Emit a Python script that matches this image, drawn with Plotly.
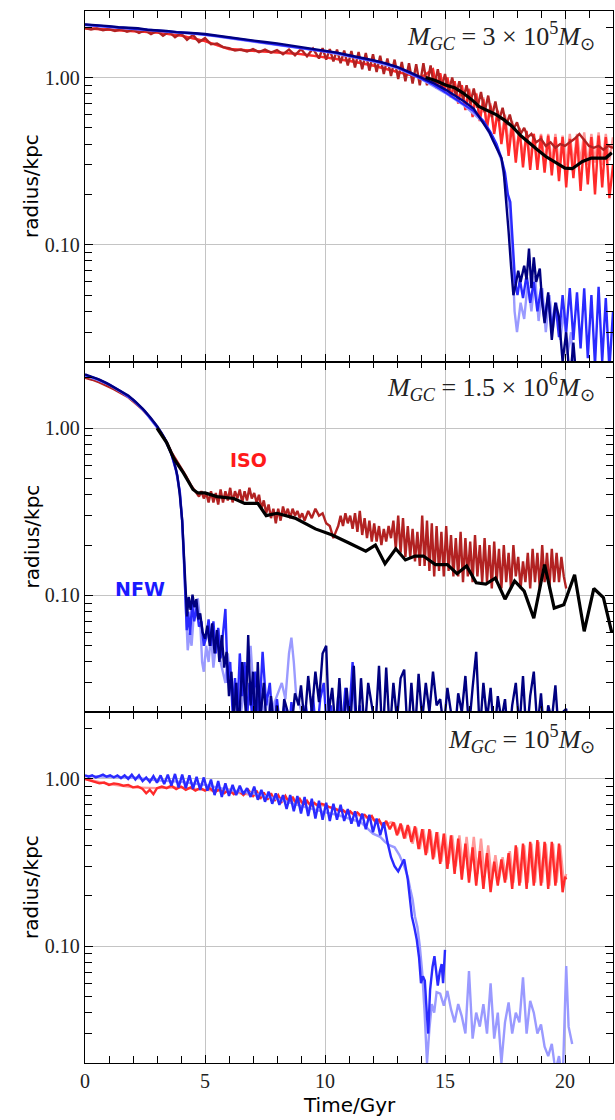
import plotly.graph_objects as go
from plotly.subplots import make_subplots

# ---------------- data (time in Gyr, radius in kpc) ----------------
# Panel 1: M_GC = 3e5
p1_iso_light = [(0,1.97),(1,1.93),(2,1.90),(3,1.86),(4,1.78),(5,1.65),(6,1.48),(7,1.45),(8,1.42),(9,1.38),(10,1.32),(11,1.26),(12,1.18),(13,1.08),(14,1.0),
    (14.5,1.10),(14.65,0.88),(14.8,1.05),(14.95,0.83),(15.1,1.0),(15.25,0.77),(15.4,0.95),(15.55,0.72),(15.7,0.90),(15.85,0.66),(16.0,0.86),(16.15,0.60),(16.3,0.81),(16.45,0.56),(16.6,0.76),(16.75,0.52),(16.9,0.70),(17.05,0.48),(17.2,0.64),(17.35,0.44),(17.5,0.60),(17.65,0.40),(17.8,0.55),(17.95,0.37),
    (18.1,0.47),(18.25,0.34),(18.4,0.46),(18.55,0.33),(18.7,0.46),(18.85,0.32),(19.0,0.46),(19.15,0.31),(19.3,0.46),(19.45,0.31),(19.6,0.46),(19.75,0.30),(19.9,0.45),(20.05,0.30),(20.2,0.46),(20.35,0.30),(20.5,0.46),(20.65,0.31),(20.8,0.47),(20.95,0.30),(21.1,0.46),(21.25,0.31),(21.4,0.47),(21.55,0.30),(21.7,0.46),(21.85,0.32),(22.0,0.44)]
p1_iso_red = [(0,1.97),(1,1.93),(2,1.90),(3,1.86),(4,1.78),(5,1.65),(6,1.48),(7,1.45),(8,1.42),(9,1.38),(10,1.32),(11,1.26),(12,1.18),(13,1.08),(14,1.0),
    (14.5,1.12),(14.65,0.86),(14.8,1.06),(14.95,0.82),(15.1,1.0),(15.25,0.76),(15.4,0.95),(15.55,0.70),(15.7,0.90),(15.85,0.64),(16.0,0.85),(16.15,0.58),(16.3,0.80),(16.45,0.55),(16.6,0.74),(16.75,0.50),(16.9,0.68),(17.05,0.46),(17.2,0.63),(17.35,0.40),(17.5,0.57),(17.65,0.34),(17.8,0.53),(17.95,0.31),
    (18.1,0.50),(18.25,0.29),(18.4,0.48),(18.55,0.28),(18.7,0.46),(18.85,0.28),(19.0,0.45),(19.15,0.27),(19.3,0.45),(19.45,0.26),(19.6,0.44),(19.75,0.24),(19.9,0.44),(20.05,0.22),(20.2,0.43),(20.35,0.25),(20.5,0.44),(20.65,0.21),(20.8,0.43),(20.95,0.23),(21.1,0.44),(21.25,0.20),(21.4,0.45),(21.55,0.22),(21.7,0.44),(21.85,0.19),(22.0,0.30)]
p1_iso_dark = [(0,1.98),(0.25,1.94),(0.5,1.97),(0.75,1.92),(1.0,1.95),(1.25,1.90),(1.5,1.94),(1.75,1.88),(2.0,1.93),(2.25,1.85),(2.5,1.92),(2.75,1.82),(3.0,1.90),(3.25,1.78),(3.5,1.88),(3.75,1.74),(4.0,1.84),(4.25,1.68),(4.5,1.80),(4.75,1.63),(5.0,1.72),(5.25,1.58),(5.5,1.60),(5.75,1.52),(6.0,1.50),(6.25,1.45),(6.5,1.47),(6.75,1.43),(7.0,1.48),(7.25,1.42),(7.5,1.47),(7.75,1.41),(8.0,1.46),(8.25,1.38),(8.5,1.47),(8.75,1.36),(9.0,1.48),(9.25,1.34),(9.5,1.49),(9.75,1.30),
    (9.9,1.50),(10.05,1.28),(10.2,1.48),(10.35,1.25),(10.5,1.47),(10.65,1.22),(10.8,1.45),(10.95,1.18),(11.1,1.44),(11.25,1.15),(11.4,1.42),(11.55,1.12),(11.7,1.40),(11.85,1.10),(12.0,1.38),(12.15,1.08),(12.3,1.35),(12.45,1.05),(12.6,1.30),(12.75,1.02),(12.9,1.28),(13.05,0.98),(13.2,1.24),(13.35,0.95),(13.5,1.22),(13.65,0.92),(13.8,1.20),(13.95,0.90),(14.1,1.22),(14.25,0.90),(14.4,1.18),(14.55,0.88),(14.7,1.12),(14.85,0.86),(15.0,1.05),(15.15,0.82),(15.3,1.0),(15.45,0.78),(15.6,0.95),(15.75,0.74),(15.9,0.90),(16.05,0.70),(16.2,0.86),(16.35,0.66),(16.5,0.82),(16.65,0.62),(16.8,0.78),(16.95,0.58),(17.1,0.72),(17.25,0.55),(17.4,0.66),(17.55,0.52),(17.7,0.60),(17.85,0.49),(18.0,0.54),(18.15,0.46),(18.3,0.50),(18.45,0.44),(18.6,0.46),(18.8,0.41),(19.0,0.43),(19.2,0.39),(19.4,0.41),(19.6,0.38),(19.8,0.40),(20.0,0.39),(20.2,0.41),(20.4,0.43),(20.6,0.46),(20.8,0.42),(21.0,0.39),(21.2,0.38),(21.4,0.39),(21.6,0.37),(21.8,0.39),(22.0,0.38)]
p1_nfw_light = [(0,2.06),(1,2.01),(2,1.95),(3,1.90),(4,1.85),(5,1.80),(6,1.72),(7,1.65),(8,1.58),(9,1.50),(10,1.43),(11,1.34),(12,1.25),(13,1.14),(14,0.98),(15,0.81),(15.8,0.68),(16.6,0.54),(17.1,0.40),(17.35,0.32),(17.55,0.21),(17.7,0.16),(17.8,0.09),(17.9,0.04),(18.0,0.03),
    (18.15,0.045),(18.3,0.036),(18.45,0.06),(18.6,0.04),(18.75,0.065),(18.9,0.035),(19.05,0.055),(19.2,0.03),(19.35,0.05),(19.5,0.032),(19.65,0.045),(19.8,0.027),(19.95,0.04),(20.1,0.022),(20.25,0.03),(20.4,0.015)]
p1_nfw_blue = [(0,2.07),(0.5,2.04),(1,2.02),(1.5,1.99),(2,1.96),(2.5,1.93),(3,1.91),(3.5,1.88),(4,1.86),(4.5,1.84),(5,1.81),(5.5,1.77),(6,1.73),(6.5,1.69),(7,1.66),(7.5,1.62),(8,1.59),(8.5,1.55),(9,1.51),(9.5,1.47),(10,1.44),(10.5,1.40),(11,1.35),(11.5,1.31),(12,1.26),(12.5,1.21),(13,1.15),(13.5,1.07),(14,0.99),(14.5,0.91),(15,0.82),(15.4,0.75),(15.8,0.69),(16.2,0.63),(16.6,0.55),(16.9,0.47),(17.15,0.40),(17.35,0.33),(17.5,0.27),(17.62,0.20),(17.72,0.18),(17.82,0.11),(17.92,0.06),(18.02,0.05),
    (18.12,0.062),(18.25,0.048),(18.4,0.066),(18.55,0.045),(18.7,0.06),(18.85,0.04),(19.0,0.055),(19.15,0.035),(19.3,0.05),(19.45,0.031),(19.6,0.045),(19.75,0.028),(19.9,0.05),(20.05,0.03),(20.2,0.055),(20.35,0.027),(20.5,0.052),(20.65,0.024),(20.8,0.055),(20.95,0.021),(21.1,0.05),(21.25,0.019),(21.4,0.056),(21.55,0.02),(21.7,0.048),(21.85,0.018),(22.0,0.04)]
p1_nfw_dark = [(0,2.08),(0.3,2.07),(0.6,2.04),(1.0,2.03),(1.4,2.0),(1.8,1.98),(2.2,1.97),(2.6,1.93),(3.0,1.92),(3.4,1.90),(3.8,1.87),(4.2,1.86),(4.6,1.84),(5.0,1.82),(5.5,1.78),(6.0,1.73),(6.5,1.70),(7.0,1.66),(7.5,1.63),(8.0,1.60),(8.5,1.56),(9.0,1.52),(9.5,1.48),(10.0,1.45),(10.5,1.41),(11.0,1.36),(11.5,1.32),(12.0,1.27),(12.5,1.22),(13.0,1.16),(13.5,1.08),(14.0,1.0),(14.5,0.93),(15.0,0.85),(15.4,0.78),(15.8,0.72),(16.2,0.65),(16.6,0.53),(16.85,0.47),(17.0,0.42),(17.2,0.37),(17.35,0.33),(17.45,0.27),(17.55,0.19),(17.65,0.12),(17.75,0.075),(17.85,0.05),
    (17.95,0.058),(18.05,0.07),(18.15,0.06),(18.3,0.075),(18.4,0.062),(18.5,0.095),(18.6,0.055),(18.7,0.084),(18.8,0.06),(18.95,0.072),(19.05,0.045),(19.15,0.034),(19.3,0.052),(19.45,0.027),(19.6,0.045),(19.75,0.037),(19.9,0.02),(20.05,0.03),(20.2,0.015),(20.35,0.026),(20.5,0.014)]
p1_mean = [(14.2,1.0),(14.6,0.96),(15.05,0.90),(15.4,0.87),(15.74,0.81),(16.1,0.74),(16.43,0.67),(16.8,0.63),(17.13,0.60),(17.45,0.56),(17.8,0.51),(18.15,0.45),(18.5,0.405),(18.85,0.37),(19.2,0.337),(19.6,0.31),(20.0,0.287),(20.3,0.285),(20.5,0.30),(20.73,0.315),(21.1,0.33),(21.45,0.33),(21.7,0.33),(21.95,0.355)]

# Panel 2: M_GC = 1.5e6
p2_iso_dark = [(0,2.0),(0.3,1.95),(0.6,1.88),(0.9,1.80),(1.2,1.71),(1.5,1.62),(1.8,1.53),(2.1,1.41),(2.4,1.29),(2.7,1.16),(3.0,1.02),(3.2,0.92),(3.4,0.83),(3.6,0.72),(3.8,0.65),(4.0,0.58),(4.2,0.52),(4.4,0.46),(4.6,0.42),
    (4.75,0.39),(4.85,0.42),(4.95,0.38),(5.05,0.41),(5.15,0.36),(5.25,0.42),(5.35,0.36),(5.45,0.41),(5.55,0.35),(5.65,0.43),(5.75,0.36),(5.85,0.42),(5.95,0.37),(6.05,0.44),(6.15,0.36),(6.25,0.42),(6.35,0.38),(6.45,0.43),(6.55,0.36),(6.65,0.42),(6.75,0.37),(6.85,0.44),(6.95,0.38),(7.05,0.41),(7.15,0.36),(7.25,0.40),(7.35,0.33),(7.45,0.37),(7.55,0.31),(7.65,0.35),(7.75,0.29),(7.85,0.33),(7.95,0.27),(8.05,0.33),(8.15,0.28),(8.25,0.34),(8.35,0.30),(8.45,0.33),(8.55,0.29),(8.65,0.33),(8.75,0.30),(8.85,0.32),(8.95,0.29),(9.05,0.31),(9.15,0.28),(9.3,0.32),(9.45,0.29),(9.6,0.33),(9.75,0.30),(9.9,0.31),(10.05,0.27),(10.2,0.26),(10.35,0.22),(10.45,0.24),(10.55,0.26),(10.65,0.30),(10.75,0.26),(10.85,0.31),(10.95,0.27),(11.05,0.30),(11.15,0.25),(11.25,0.31),(11.35,0.24),(11.45,0.32),(11.55,0.23),(11.65,0.29),(11.75,0.22),(11.85,0.28),(11.95,0.21),(12.05,0.27),(12.15,0.21),(12.25,0.26),(12.35,0.20),(12.45,0.25),(12.55,0.21),(12.65,0.26),(12.75,0.22),(12.85,0.28),(12.95,0.19),(13.05,0.30),(13.15,0.18),(13.25,0.29),(13.35,0.17),(13.45,0.26),(13.55,0.17),(13.65,0.25),(13.75,0.16),(13.85,0.24),(13.95,0.15),(14.05,0.30),(14.15,0.15),(14.25,0.28),(14.35,0.14),(14.45,0.27),(14.55,0.13),(14.65,0.26),(14.75,0.14),(14.85,0.24),(14.95,0.13),(15.05,0.26),(15.15,0.14),(15.25,0.23),(15.35,0.13),(15.45,0.22),(15.55,0.13),(15.65,0.24),(15.75,0.12),(15.85,0.22),(15.95,0.13),(16.05,0.21),(16.15,0.12),(16.25,0.23),(16.35,0.13),(16.45,0.20),(16.55,0.12),(16.65,0.22),(16.75,0.12),(16.85,0.20),(16.95,0.11),(17.05,0.21),(17.15,0.12),(17.25,0.19),(17.35,0.11),(17.45,0.20),(17.55,0.12),(17.65,0.18),(17.75,0.11),(17.85,0.20),(17.95,0.13),(18.05,0.17),(18.15,0.11),(18.25,0.16),(18.35,0.12),(18.45,0.18),(18.55,0.11),(18.65,0.19),(18.75,0.12),(18.85,0.18),(18.95,0.11),(19.05,0.20),(19.15,0.12),(19.25,0.18),(19.35,0.11),(19.45,0.19),(19.55,0.12),(19.65,0.18),(19.75,0.12),(19.85,0.17),(19.95,0.13),(20.05,0.11)]
p2_nfw_light = [(0,2.06),(0.5,1.95),(1.0,1.82),(1.5,1.65),(2.0,1.47),(2.5,1.25),(3.0,1.01),(3.3,0.87),(3.6,0.70),(3.8,0.55),(3.95,0.41),(4.05,0.27),(4.12,0.16),(4.2,0.09),(4.28,0.047),(4.36,0.06),(4.44,0.05),(4.52,0.072),(4.6,0.085),(4.7,0.096),(4.8,0.07),(4.88,0.04),(4.95,0.035),(5.05,0.05),(5.15,0.04),(5.25,0.058),(5.35,0.037),(5.45,0.05),(5.55,0.063),(5.65,0.04),(5.75,0.035),(5.85,0.03),(5.95,0.045),(6.05,0.03),(6.2,0.022),(6.35,0.03),(6.5,0.02),(6.65,0.028),(6.8,0.035),(6.9,0.05),(7.0,0.03),(7.15,0.022),(7.3,0.026),(7.45,0.02),(7.6,0.024),(7.75,0.018),(7.9,0.023),(8.05,0.026),(8.2,0.03),(8.35,0.024),(8.5,0.045),(8.6,0.056),(8.7,0.04),(8.8,0.025),(8.95,0.022),(9.1,0.018),(9.25,0.015)]
p2_nfw_blue = [(0,2.08),(0.5,1.97),(1.0,1.83),(1.5,1.66),(2.0,1.48),(2.5,1.26),(3.0,1.02),(3.3,0.88),(3.6,0.70),(3.8,0.56),(3.95,0.42),(4.05,0.28),(4.12,0.17),(4.18,0.10),(4.24,0.062),(4.3,0.08),(4.38,0.058),(4.46,0.09),(4.55,0.07),(4.65,0.085),(4.75,0.065),(4.85,0.07),(4.95,0.05),(5.05,0.056),(5.15,0.072),(5.25,0.05),(5.35,0.07),(5.45,0.045),(5.55,0.064),(5.65,0.042),(5.75,0.06),(5.85,0.083),(5.95,0.03),(6.05,0.04),(6.15,0.02),(6.25,0.032),(6.35,0.02),(6.45,0.045),(6.55,0.025),(6.65,0.04),(6.75,0.018),(6.85,0.03),(6.95,0.02),(7.1,0.035),(7.25,0.018),(7.4,0.046),(7.55,0.022),(7.7,0.03),(7.85,0.015),(8.0,0.024),(8.15,0.015),(8.3,0.022),(8.45,0.012),(8.6,0.023),(8.75,0.015),(8.9,0.02),(9.05,0.014),(9.2,0.022),(9.35,0.016),(9.5,0.025),(9.65,0.014),(9.8,0.024),(9.95,0.03),(10.1,0.014),(10.25,0.022),(10.4,0.013),(10.55,0.025),(10.7,0.015),(10.85,0.028),(11.0,0.018),(11.15,0.04),(11.3,0.015),(11.45,0.022),(11.6,0.012)]
p2_nfw_dark = [(0,2.10),(0.3,2.03),(0.6,1.95),(0.9,1.86),(1.2,1.76),(1.5,1.66),(1.8,1.57),(2.1,1.44),(2.4,1.31),(2.7,1.17),(3.0,1.03),(3.2,0.93),(3.4,0.83),(3.55,0.74),(3.7,0.64),(3.85,0.52),(3.95,0.40),(4.05,0.28),(4.1,0.20),(4.15,0.13),(4.2,0.09),(4.25,0.075),(4.32,0.098),(4.4,0.082),(4.48,0.101),(4.56,0.085),(4.64,0.095),(4.72,0.072),(4.8,0.078),(4.9,0.06),(5.0,0.055),(5.1,0.066),(5.2,0.05),(5.3,0.068),(5.4,0.045),(5.5,0.062),(5.6,0.04),(5.7,0.058),(5.8,0.037),(5.9,0.046),(6.0,0.025),(6.1,0.035),(6.2,0.018),(6.3,0.03),(6.4,0.015),(6.55,0.04),(6.7,0.02),(6.8,0.058),(6.9,0.022),(7.0,0.035),(7.1,0.015),(7.2,0.04),(7.3,0.018),(7.45,0.03),(7.6,0.014),(7.75,0.025),(7.9,0.015),(8.0,0.022),(8.15,0.012),(8.3,0.024),(8.45,0.02),(8.6,0.016),(8.75,0.026),(8.9,0.022),(9.0,0.029),(9.15,0.017),(9.3,0.033),(9.45,0.02),(9.6,0.035),(9.75,0.023),(9.9,0.045),(10.05,0.05),(10.15,0.02),(10.3,0.028),(10.45,0.015),(10.6,0.032),(10.75,0.014),(10.9,0.028),(11.05,0.016),(11.2,0.038),(11.35,0.013),(11.5,0.032),(11.65,0.015),(11.8,0.03),(11.95,0.022),(12.1,0.016),(12.25,0.038),(12.4,0.013),(12.55,0.037),(12.7,0.015),(12.85,0.03),(13.0,0.018),(13.15,0.032),(13.3,0.036),(13.45,0.014),(13.6,0.03),(13.75,0.015),(13.9,0.034),(14.05,0.018),(14.2,0.03),(14.35,0.02),(14.5,0.035),(14.65,0.022),(14.8,0.024),(14.95,0.016),(15.1,0.028),(15.25,0.02),(15.4,0.014),(15.55,0.026),(15.7,0.02),(15.85,0.033),(16.0,0.016),(16.15,0.028),(16.3,0.046),(16.45,0.015),(16.6,0.03),(16.75,0.018),(16.9,0.028),(17.05,0.014),(17.2,0.025),(17.35,0.018),(17.5,0.024),(17.65,0.013),(17.8,0.022),(17.95,0.03),(18.1,0.016),(18.25,0.033),(18.4,0.014),(18.55,0.025),(18.7,0.035),(18.85,0.016),(19.0,0.026),(19.15,0.013),(19.3,0.022),(19.45,0.018),(19.6,0.029),(19.75,0.014),(19.9,0.02),(20.05,0.021),(20.1,0.013)]
p2_mean = [(3.0,1.0),(3.4,0.82),(3.7,0.66),(4.1,0.54),(4.5,0.43),(4.7,0.41),(5.0,0.41),(5.5,0.39),(6.2,0.38),(6.65,0.355),(7.2,0.355),(7.55,0.30),(8.0,0.31),(8.75,0.29),(9.6,0.25),(10.3,0.23),(11.0,0.206),(11.7,0.184),(12.1,0.20),(12.5,0.155),(12.95,0.19),(13.35,0.163),(13.75,0.172),(14.1,0.172),(14.6,0.153),(15.1,0.153),(15.5,0.135),(15.9,0.15),(16.3,0.119),(16.7,0.117),(17.1,0.127),(17.5,0.095),(17.9,0.122),(18.3,0.106),(18.7,0.073),(19.15,0.153),(19.55,0.084),(19.95,0.088),(20.4,0.133),(20.8,0.061),(21.2,0.11),(21.6,0.097),(21.95,0.06)]

# Panel 3: M_GC = 1e5
p3_iso_light = [(0,1.0),(1,0.93),(2,0.89),(3,0.88),(4,0.89),(5,0.86),(6,0.84),(7,0.80),(8,0.77),(9,0.73),(10,0.69),(11,0.63),(12,0.57),(12.5,0.53),(12.75,0.55),
    (12.9,0.54),(13.05,0.47),(13.2,0.53),(13.35,0.44),(13.5,0.52),(13.65,0.41),(13.8,0.51),(13.95,0.38),(14.1,0.50),(14.25,0.36),(14.4,0.49),(14.55,0.34),(14.7,0.48),(14.85,0.32),(15.0,0.47),(15.15,0.31),(15.3,0.46),(15.45,0.30),(15.6,0.46),(15.75,0.29),(15.9,0.45),(16.05,0.28),(16.2,0.45),(16.35,0.27),(16.5,0.44),(16.65,0.26),(16.8,0.40),(16.95,0.25),(17.1,0.35),(17.25,0.25),(17.4,0.34),(17.55,0.25),(17.7,0.37),(17.85,0.24),(18.0,0.39),(18.15,0.24),(18.3,0.40),(18.45,0.24),(18.6,0.41),(18.75,0.24),(18.9,0.42),(19.05,0.24),(19.2,0.41),(19.35,0.23),(19.5,0.41),(19.65,0.24),(19.8,0.40),(19.95,0.24),(20.05,0.27)]
p3_iso_red = [(0,1.0),(0.2,0.98),(0.4,0.96),(0.6,0.94),(0.8,0.95),(1.0,0.92),(1.2,0.94),(1.4,0.93),(1.6,0.91),(1.8,0.92),(2.0,0.89),(2.2,0.90),(2.4,0.87),(2.55,0.82),(2.7,0.86),(2.85,0.81),(3.0,0.88),(3.2,0.90),(3.4,0.88),(3.6,0.91),(3.8,0.87),(4.0,0.90),(4.2,0.86),(4.4,0.89),(4.6,0.85),(4.8,0.88),(5.0,0.85),(5.2,0.88),(5.4,0.83),(5.6,0.87),(5.8,0.82),(6.0,0.86),(6.2,0.81),(6.4,0.85),(6.6,0.80),(6.8,0.86),(7.0,0.79),(7.15,0.85),(7.3,0.76),(7.45,0.83),(7.6,0.75),(7.75,0.82),(7.9,0.74),(8.05,0.80),(8.2,0.73),(8.35,0.79),(8.5,0.72),(8.65,0.78),(8.8,0.71),(8.95,0.76),(9.1,0.70),(9.25,0.74),(9.4,0.69),(9.55,0.72),(9.7,0.69),(9.85,0.71),(10.0,0.70),(10.15,0.68),(10.3,0.67),(10.45,0.66),(10.6,0.64),(10.75,0.65),(10.9,0.62),(11.05,0.64),(11.2,0.61),(11.35,0.63),(11.5,0.60),(11.65,0.61),(11.8,0.58),(11.95,0.60),(12.1,0.55),(12.25,0.57),(12.4,0.52),(12.55,0.56),(12.7,0.50),(12.85,0.55),(13.0,0.46),(13.15,0.54),(13.3,0.44),(13.45,0.53),(13.6,0.42),(13.75,0.52),(13.9,0.38),(14.05,0.50),(14.2,0.35),(14.35,0.50),(14.5,0.33),(14.65,0.48),(14.8,0.31),(14.95,0.47),(15.1,0.29),(15.25,0.46),(15.4,0.27),(15.55,0.44),(15.7,0.25),(15.85,0.41),(16.0,0.24),(16.15,0.39),(16.3,0.23),(16.45,0.37),(16.6,0.22),(16.75,0.36),(16.9,0.21),(17.05,0.32),(17.2,0.23),(17.35,0.33),(17.5,0.24),(17.65,0.36),(17.8,0.22),(17.95,0.40),(18.1,0.23),(18.25,0.41),(18.4,0.22),(18.55,0.42),(18.7,0.23),(18.85,0.43),(19.0,0.23),(19.15,0.42),(19.3,0.22),(19.45,0.42),(19.6,0.23),(19.75,0.41),(19.9,0.21),(20.0,0.26),(20.05,0.25)]
p3_nfw_light = [(0,1.04),(1,1.03),(2,1.02),(3,0.98),(4,0.96),(5,0.92),(6,0.86),(7,0.82),(8,0.76),(9,0.69),(10,0.63),(10.5,0.61),(11,0.58),(11.5,0.55),(12,0.47),(12.3,0.45),(12.5,0.42),(12.7,0.40),(12.9,0.39),(13.1,0.35),(13.3,0.30),(13.45,0.26),(13.55,0.22),(13.65,0.19),(13.75,0.15),(13.85,0.13),(13.95,0.10),(14.05,0.07),(14.15,0.04),(14.25,0.02),(14.35,0.032),(14.45,0.045),(14.55,0.04),(14.65,0.053),(14.8,0.052),(14.95,0.044),(15.1,0.054),(15.25,0.042),(15.4,0.035),(15.55,0.045),(15.7,0.038),(15.85,0.03),(16.0,0.071),(16.15,0.028),(16.3,0.04),(16.45,0.033),(16.6,0.045),(16.75,0.03),(16.9,0.06),(17.05,0.028),(17.2,0.04),(17.35,0.02),(17.5,0.035),(17.65,0.046),(17.8,0.03),(17.95,0.04),(18.1,0.035),(18.25,0.065),(18.4,0.03),(18.55,0.047),(18.7,0.04),(18.85,0.03),(19.0,0.034),(19.15,0.025),(19.3,0.022),(19.45,0.026),(19.6,0.018),(19.75,0.022),(19.9,0.015),(20.05,0.076),(20.15,0.033),(20.3,0.026)]
p3_nfw_blue = [(0,1.05),(0.15,1.03),(0.3,1.05),(0.45,1.02),(0.6,1.04),(0.75,1.06),(0.9,1.03),(1.05,1.05),(1.2,1.02),(1.35,1.05),(1.5,1.01),(1.65,1.05),(1.8,1.0),(1.95,1.06),(2.1,0.99),(2.25,1.05),(2.4,0.97),(2.55,1.02),(2.7,0.96),(2.85,1.04),(3.0,0.95),(3.15,1.05),(3.3,0.93),(3.45,1.06),(3.6,0.91),(3.75,1.07),(3.9,0.89),(4.05,1.06),(4.2,0.88),(4.35,1.05),(4.5,0.87),(4.65,1.03),(4.8,0.86),(4.95,1.02),(5.1,0.85),(5.25,0.99),(5.4,0.80),(5.55,0.97),(5.7,0.78),(5.85,0.94),(6.0,0.79),(6.15,0.92),(6.3,0.80),(6.45,0.91),(6.6,0.81),(6.75,0.88),(6.9,0.78),(7.05,0.90),(7.2,0.75),(7.35,0.86),(7.5,0.73),(7.65,0.84),(7.8,0.71),(7.95,0.82),(8.1,0.70),(8.25,0.80),(8.4,0.66),(8.55,0.80),(8.7,0.64),(8.85,0.79),(9.0,0.62),(9.15,0.78),(9.3,0.60),(9.45,0.76),(9.6,0.58),(9.75,0.74),(9.9,0.57),(10.05,0.72),(10.2,0.56),(10.35,0.71),(10.5,0.57),(10.65,0.70),(10.8,0.56),(10.95,0.66),(11.1,0.54),(11.25,0.64),(11.4,0.52),(11.55,0.62),(11.7,0.50),(11.85,0.61),(12.0,0.48),(12.15,0.58),(12.3,0.46),(12.45,0.55),(12.6,0.42),(12.75,0.34),(12.9,0.30),(13.05,0.28),(13.2,0.31),(13.3,0.33),(13.45,0.25),(13.55,0.19),(13.62,0.15),(13.72,0.13),(13.82,0.11),(13.92,0.085),(14.0,0.06),(14.08,0.066),(14.16,0.062),(14.24,0.04),(14.3,0.03),(14.38,0.055),(14.48,0.075),(14.56,0.087),(14.64,0.065),(14.7,0.058),(14.78,0.07),(14.86,0.078),(14.92,0.06),(15.0,0.095)]

panel_labels = ["<i>M</i><sub><i>GC</i></sub> = 3 × 10<sup>5</sup><i>M</i><sub>⊙</sub>",
                "<i>M</i><sub><i>GC</i></sub> = 1.5 × 10<sup>6</sup><i>M</i><sub>⊙</sub>",
                "<i>M</i><sub><i>GC</i></sub> = 10<sup>5</sup><i>M</i><sub>⊙</sub>"]
x_ticks = [0, 5, 10, 15, 20]
y_ticks = [0.1, 1.0]
y_ticktext = ["0.10", "1.00"]
y_minor = [0.03, 0.04, 0.05, 0.06, 0.07, 0.08, 0.09, 0.2, 0.3, 0.4, 0.5, 0.6, 0.7, 0.8, 0.9, 2.0]

# ---------------- styling ----------------
C_LR, C_R, C_DR = "#ff9a9a", "#ff2a2a", "#b22222"
C_LB, C_B, C_NB = "#9a9aff", "#2a2aff", "#000080"
LW = 2.4

panels = [
    [(p1_iso_light, C_LR, LW), (p1_iso_red, C_R, LW), (p1_iso_dark, C_DR, LW),
     (p1_nfw_light, C_LB, LW), (p1_nfw_blue, C_B, LW), (p1_nfw_dark, C_NB, LW), (p1_mean, "black", 3.2)],
    [(p2_iso_dark, C_DR, LW), (p2_nfw_light, C_LB, LW), (p2_nfw_blue, C_B, LW), (p2_nfw_dark, C_NB, LW), (p2_mean, "black", 3.2)],
    [(p3_iso_light, C_LR, LW), (p3_iso_red, C_R, LW), (p3_nfw_light, C_LB, LW), (p3_nfw_blue, C_B, LW)],
]

W, H = 615, 1120
ML, MR, MT, MB = 85, 2, 11, 57

fig = make_subplots(rows=3, cols=1, shared_xaxes=True, vertical_spacing=0)
for i, series in enumerate(panels):
    for pts, col, lw in series:
        fig.add_trace(go.Scatter(x=[p[0] for p in pts], y=[p[1] for p in pts], mode="lines",
                                 line=dict(color=col, width=lw), showlegend=False, hoverinfo="skip"),
                      row=i + 1, col=1)

serif = "Liberation Serif"
sans = "DejaVu Sans"
axis_common = dict(showline=True, linecolor="black", linewidth=1.3, mirror="allticks",
                   ticks="inside", ticklen=8, tickwidth=1.3, tickcolor="black",
                   showgrid=True, gridcolor="#c4c4c4", gridwidth=1.3, zeroline=False,
                   tickfont=dict(family=serif, size=20, color="#222"))
for i in range(3):
    fig.update_yaxes(type="log", range=[-1.69897, 0.39794], tickmode="array", tickvals=y_ticks, ticktext=y_ticktext,
                     minor=dict(tickmode="array", tickvals=y_minor, ticks="inside", ticklen=6.5, tickwidth=1.3,
                                tickcolor="black", showgrid=False),
                     row=i + 1, col=1, **axis_common)
    fig.update_xaxes(range=[0, 22], tickmode="array", tickvals=x_ticks,
                     minor=dict(dtick=1, tick0=0, ticks="inside", ticklen=6.5, tickwidth=1.3, tickcolor="black", showgrid=False),
                     row=i + 1, col=1, **axis_common)

pw, ph = W - ML - MR, H - MT - MB
def px(x): return (x - ML) / pw
def py(y): return (H - MB - y) / ph

ann = []
label_y = [36, 387, 739]
panel_centers = [186, 536.5, 887]
for i in range(3):
    ann.append(dict(text=panel_labels[i], x=px(597), y=py(label_y[i]), xref="paper", yref="paper",
                    xanchor="right", yanchor="middle", showarrow=False,
                    font=dict(family=serif, size=26, color="#222")))
    ann.append(dict(text="radius/kpc", x=px(31), y=py(panel_centers[i]), xref="paper", yref="paper",
                    xanchor="center", yanchor="middle", textangle=-90, showarrow=False,
                    font=dict(family=sans, size=20, color="black")))
ann.append(dict(text="Time/Gyr", x=px(349), y=py(1105), xref="paper", yref="paper",
                xanchor="center", yanchor="middle", showarrow=False, font=dict(family=sans, size=20, color="black")))
ann.append(dict(text="<b>ISO</b>", x=px(248), y=py(459.5), xref="paper", yref="paper",
                xanchor="center", yanchor="middle", showarrow=False, font=dict(family=sans, size=19, color="#ff1a1a")))
ann.append(dict(text="<b>NFW</b>", x=px(140), y=py(589), xref="paper", yref="paper",
                xanchor="center", yanchor="middle", showarrow=False, font=dict(family=sans, size=19, color="#1a1aff")))

fig.update_layout(width=W, height=H, margin=dict(l=ML, r=MR, t=MT, b=MB, autoexpand=False),
                  paper_bgcolor="white", plot_bgcolor="white", annotations=ann, showlegend=False)

fig.write_html("out.html")
